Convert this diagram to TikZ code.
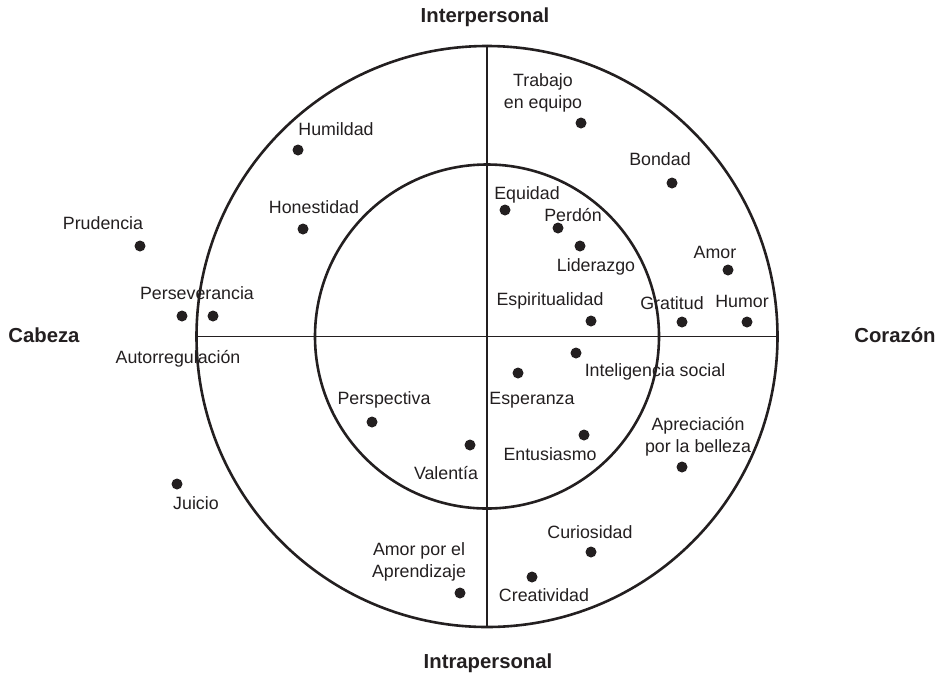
\documentclass[tikz,border=0pt]{standalone}
\usepackage{fontspec}
\setmainfont{Liberation Sans}
\usepackage{tikz}
\usepackage{xcolor}
\usetikzlibrary{positioning,shapes}
\definecolor{ink}{HTML}{231F20}

\begin{document}
\begin{tikzpicture}[x=1pt,y=1pt,font=\fontsize{17.8}{22}\selectfont,text=ink]
\tikzstyle{every node}+=[inner sep=0pt]
\tikzstyle{dot}=[circle,fill=ink,minimum size=11pt]
\tikzstyle{lbl}=[text height=13pt,text depth=0pt]
\tikzstyle{lbltwo}=[align=center]
\tikzstyle{head}=[font=\bfseries\fontsize{20.3}{24}\selectfont,text height=14.6pt,text depth=0pt]
\useasboundingbox (0,0) rectangle (937,-673);
% rings and axes
\node [circle,draw=ink,line width=2.6pt,minimum size=581pt] (outer) at (487,-336.5) {};
\node [circle,draw=ink,line width=2.6pt,minimum size=344pt] (inner) at (487,-336.5) {};
\draw [ink,line width=1.2pt] (outer.north) -- (outer.south);
\draw [ink,line width=1.2pt] (outer.west) -- (outer.east);
% headings
\node [head] (interp) at (485,-15) {Interpersonal};
\node [head] (intrap) at (488,-661) {Intrapersonal};
\node [head] (cabeza) at (44,-335) {Cabeza};
\node [head] (corazon) at (895,-335) {Corazón};
% upper left
\node [lbl] (humildad) at (336,-129) {Humildad};
\node [dot] (humildadDot) at (298,-150) {};
\node [lbl] (prudencia) at (103,-223) {Prudencia};
\node [dot] (prudenciaDot) at (140,-246) {};
\node [lbl] (honestidad) at (314,-207) {Honestidad};
\node [dot] (honestidadDot) at (303,-229) {};
\node [lbl] (persev) at (197,-293) {Perseverancia};
\node [dot] (persevDot) at (213,-316) {};
\node [dot] (autorregDot) at (182,-316) {};
\node [lbl] (autorreg) at (178,-357) {Autorregulación};
% upper right
\node [lbltwo] (trabajo) at (543,-92.4) {Trabajo\\en equipo};
\node [dot] (trabajoDot) at (581,-123) {};
\node [lbl] (bondad) at (660,-159) {Bondad};
\node [dot] (bondadDot) at (672,-183) {};
\node [lbl] (equidad) at (527,-193) {Equidad};
\node [dot] (equidadDot) at (505,-210) {};
\node [lbl] (perdon) at (573,-215) {Perdón};
\node [dot] (perdonDot) at (558,-228) {};
\node [dot] (liderazgoDot) at (580,-246) {};
\node [lbl] (liderazgo) at (596,-265) {Liderazgo};
\node [lbl] (amor) at (715,-252) {Amor};
\node [dot] (amorDot) at (728,-270) {};
\node [lbl] (espirit) at (550,-299) {Espiritualidad};
\node [dot] (espiritDot) at (591,-321) {};
\node [lbl] (gratitud) at (672,-303) {Gratitud};
\node [dot] (gratitudDot) at (682,-322) {};
\node [lbl] (humor) at (742,-301) {Humor};
\node [dot] (humorDot) at (747,-322) {};
% lower right
\node [dot] (intsocDot) at (576,-353) {};
\node [lbl] (intsoc) at (655,-370) {Inteligencia social};
\node [dot] (esperanzaDot) at (518,-373) {};
\node [lbl] (esperanza) at (532,-398) {Esperanza};
\node [lbltwo] (aprec) at (698,-437) {Apreciación\\por la belleza};
\node [dot] (aprecDot) at (682,-467) {};
\node [dot] (entusDot) at (584,-435) {};
\node [lbl] (entus) at (550,-454) {Entusiasmo};
\node [lbl] (curiosidad) at (590,-532) {Curiosidad};
\node [dot] (curiosidadDot) at (591,-552) {};
\node [dot] (creatDot) at (532,-577) {};
\node [lbl] (creat) at (544,-595) {Creatividad};
% lower left
\node [lbl] (perspectiva) at (384,-398) {Perspectiva};
\node [dot] (perspectivaDot) at (372,-422) {};
\node [dot] (valentiaDot) at (470,-445) {};
\node [lbl] (valentia) at (446,-473) {Valentía};
\node [dot] (juicioDot) at (177,-484) {};
\node [lbl] (juicio) at (196,-503) {Juicio};
\node [lbltwo] (aprend) at (419,-562) {Amor por el\\Aprendizaje};
\node [dot] (aprendDot) at (460,-593) {};
\end{tikzpicture}
\end{document}
